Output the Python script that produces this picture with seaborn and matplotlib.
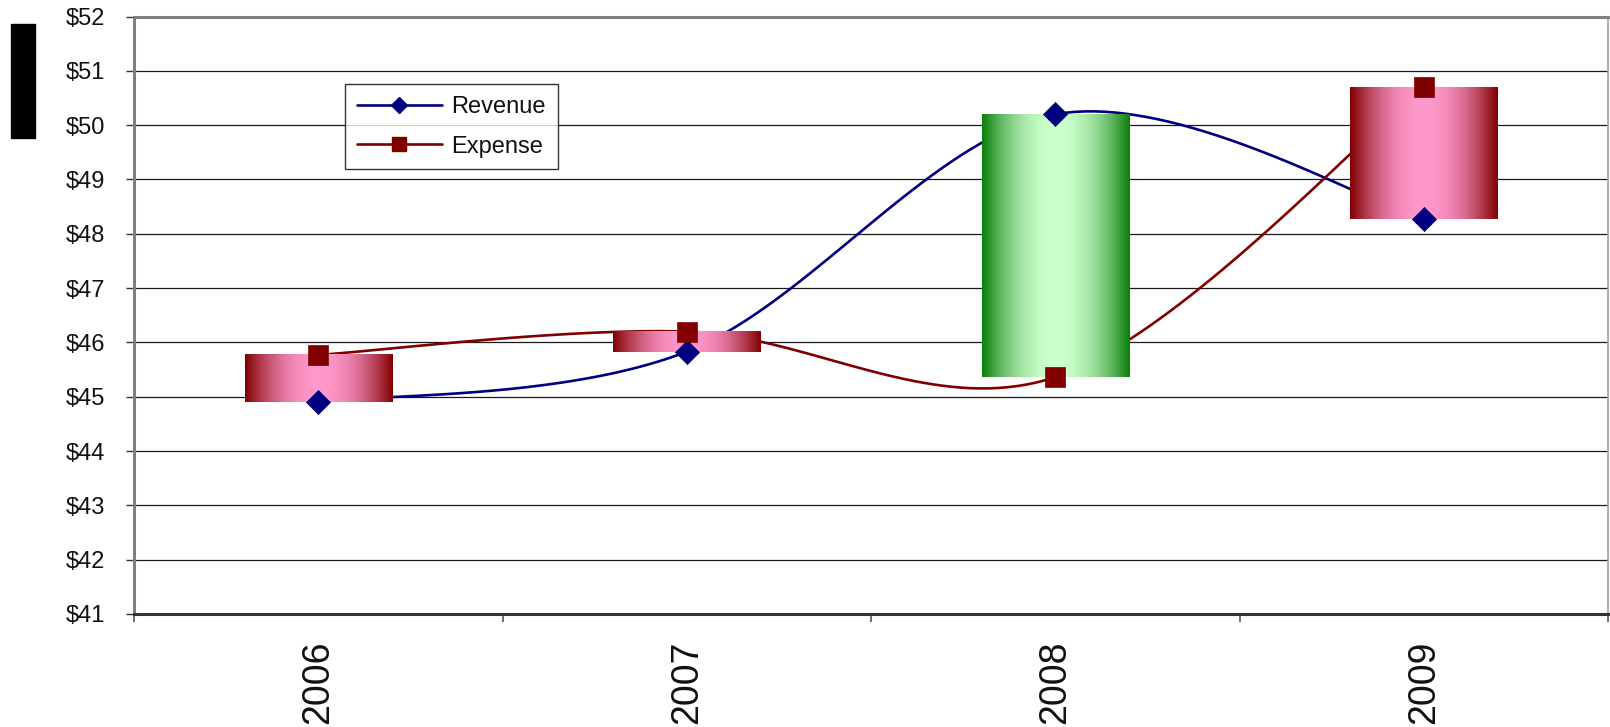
import numpy as np
import pandas as pd
import seaborn as sns
import matplotlib.pyplot as plt
from matplotlib.colors import LinearSegmentedColormap
from matplotlib.lines import Line2D
from matplotlib.patches import Rectangle

years = ["2006", "2007", "2008", "2009"]
revenue = [44.9, 45.83, 50.2, 48.27]
expense = [45.77, 46.2, 45.36, 50.7]
y_ticks = [41, 42, 43, 44, 45, 46, 47, 48, 49, 50, 51, 52]

sns.set_style("white")
plt.rcParams['font.family'] = ['Liberation Sans', 'DejaVu Sans']


def smooth(xs, ys, n=40):
    # Excel style smoothed line (bezier through the points)
    pts = np.column_stack([xs, ys]).astype(float)
    out = []
    for i in range(len(pts) - 1):
        p0 = pts[max(i - 1, 0)]
        p1 = pts[i]
        p2 = pts[i + 1]
        p3 = pts[min(i + 2, len(pts) - 1)]
        c1 = p1 + (p2 - p0) / 6
        c2 = p2 - (p3 - p1) / 6
        t = np.linspace(0, 1, n)[:, None]
        seg = (1 - t) ** 3 * p1 + 3 * (1 - t) ** 2 * t * c1 + 3 * (1 - t) * t ** 2 * c2 + t ** 3 * p2
        out.append(seg if i == 0 else seg[1:])
    return np.vstack(out)


x = np.arange(len(years))
df = pd.DataFrame({"pos": x, "Revenue": revenue, "Expense": expense})

fig = plt.figure(figsize=(16.1, 7.27), dpi=100)
ax = fig.add_axes([134 / 1610, 1 - 614 / 727, 1474 / 1610, 597.5 / 727])

rev_c = "#000080"
exp_c = "#800000"

# smoothed lines
for col, c in [("Revenue", rev_c), ("Expense", exp_c)]:
    curve = smooth(df["pos"], df[col])
    cdf = pd.DataFrame({"x": curve[:, 0], "y": curve[:, 1]})
    sns.lineplot(data=cdf, x="x", y="y", color=c, lw=1.9, sort=False, ax=ax,
                 legend=False, zorder=2)

# up / down bars with gradient
prof = np.linspace(0, 1, 200)
prof = 1 - np.abs(2 * prof - 1) ** 2
grad = prof[None, :]
green = LinearSegmentedColormap.from_list("g", ["#0a7f0a", "#ccffcc"])
pink = LinearSegmentedColormap.from_list("p", ["#800000", "#ff99cc"])
bw = 0.4
for i in range(len(years)):
    lo = min(revenue[i], expense[i])
    hi = max(revenue[i], expense[i])
    cmap = green if revenue[i] > expense[i] else pink
    ax.imshow(grad, cmap=cmap, aspect="auto", interpolation="bicubic",
              extent=(x[i] - bw / 2, x[i] + bw / 2, lo, hi), zorder=3)

# markers
sns.scatterplot(data=df, x="pos", y="Revenue", marker="D", s=12.3 ** 2, color=rev_c,
                edgecolor=rev_c, linewidth=0.5, ax=ax, zorder=4, legend=False)
sns.scatterplot(data=df, x="pos", y="Expense", marker="s", s=14.5 ** 2, color=exp_c,
                edgecolor=exp_c, linewidth=0.5, ax=ax, zorder=4, legend=False)

ax.set_xlim(-0.5, len(years) - 0.5)
ax.set_ylim(41, 52)
ax.set_xlabel("")
ax.set_ylabel("")

ax.set_yticks(y_ticks)
ax.set_yticklabels([f"${v}" for v in y_ticks], fontsize=17, color="#111111")
ax.yaxis.grid(True, color="#1a1a1a", lw=0.9)
ax.set_axisbelow(True)

ax.set_xticks(np.arange(-0.5, len(years) + 0.5, 1))
ax.set_xticklabels([])
ax.set_xticks(x, minor=True)
ax.set_xticklabels(years, minor=True, rotation=90, fontsize=27, color="#111111")
ax.tick_params(axis="x", which="minor", length=0, pad=19)
ax.tick_params(axis="x", which="major", length=6, width=1.2, color="#555555", direction="out", bottom=True)
ax.tick_params(axis="y", length=6, width=1, color="#333333", direction="out", left=True, pad=15)

ax.spines["left"].set_color("#808080")
ax.spines["left"].set_linewidth(2.2)
ax.spines["bottom"].set_color("#333333")
ax.spines["bottom"].set_linewidth(2.2)
ax.spines["top"].set_color("#808080")
ax.spines["top"].set_linewidth(2.2)
ax.spines["right"].set_color("#a0a0a0")
ax.spines["right"].set_linewidth(1.2)

handles = [
    Line2D([], [], color=rev_c, lw=1.9, marker="D", ms=7.8, mec=rev_c),
    Line2D([], [], color=exp_c, lw=1.9, marker="s", ms=9.4, mec=exp_c),
]
leg = ax.legend(handles, ["Revenue", "Expense"], loc="upper left",
                bbox_to_anchor=((345 - 134) / 1474, (614 - 84) / 597.5),
                fontsize=17, handlelength=3.6, handletextpad=0.4, labelspacing=0.75,
                borderaxespad=0, borderpad=0.5, frameon=True, fancybox=False)
leg.get_frame().set_edgecolor("black")
leg.get_frame().set_linewidth(1.0)
leg.set_zorder(5)
for t in leg.get_texts():
    t.set_color("#111111")

# black box at upper left
fig.patches.append(Rectangle((11 / 1610, 1 - 138 / 727), 24 / 1610, 114 / 727,
                             transform=fig.transFigure, color="black"))

fig.savefig("out.png", dpi=100)
